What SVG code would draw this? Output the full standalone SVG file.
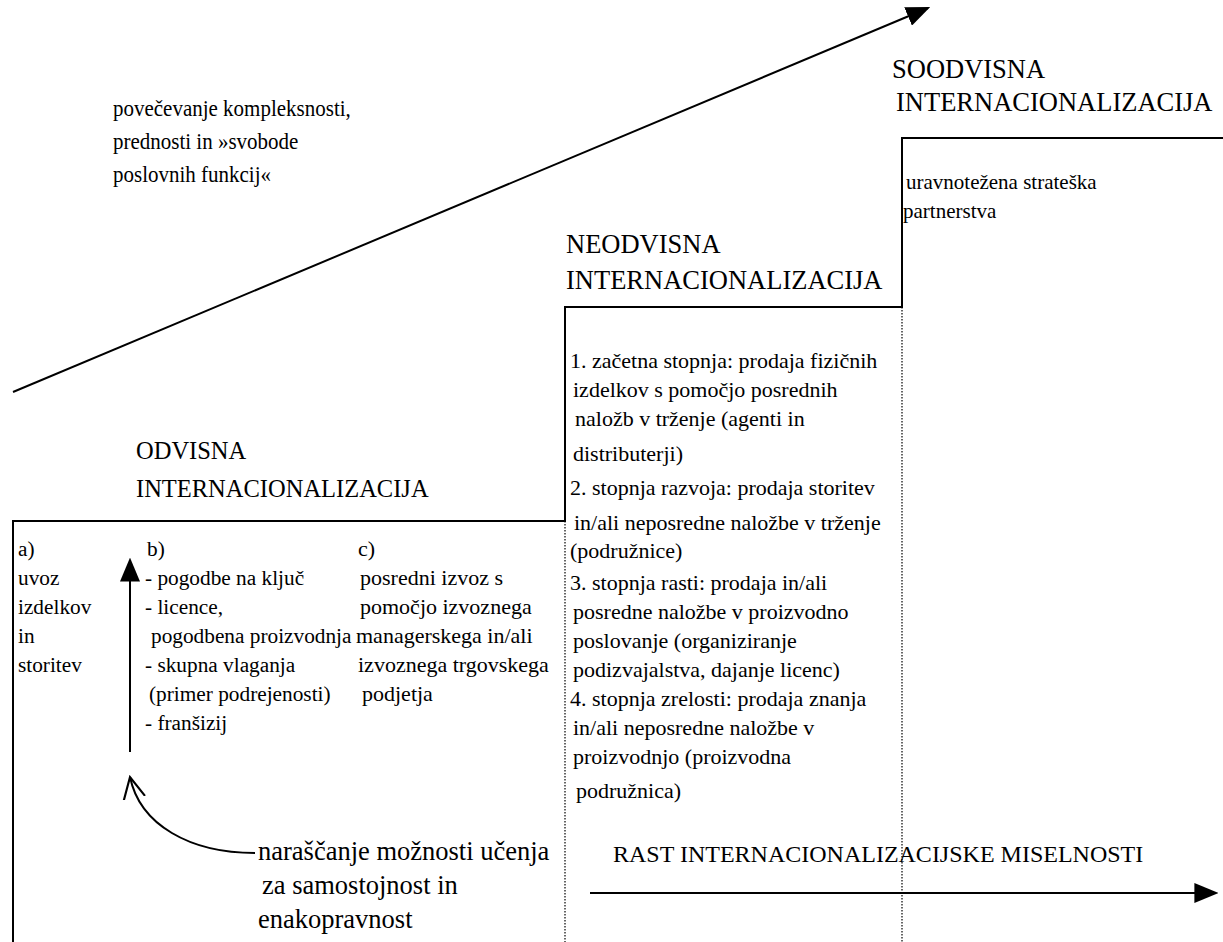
<svg xmlns="http://www.w3.org/2000/svg" width="1223" height="942" viewBox="0 0 1223 942">
<style>
text{font-family:"Liberation Serif","Times New Roman",serif;fill:#000}
.h{font-size:26.5px}
.t{font-size:22px}
.b{font-size:21.3px}
.s{font-size:21px}
.line{fill:none;stroke:#000;stroke-width:2}
.dot{fill:none;stroke:#000;stroke-width:1.2;stroke-dasharray:1.5 1.5}
</style>
<defs>
<marker id="big" viewBox="0 0 10 10" refX="9" refY="5" markerWidth="24" markerHeight="20" markerUnits="userSpaceOnUse" orient="auto" preserveAspectRatio="none"><path d="M0,0 L10,5 L0,10 z" fill="#000"/></marker>
<marker id="open" viewBox="0 0 10 10" refX="9" refY="5" markerWidth="24" markerHeight="24" markerUnits="userSpaceOnUse" orient="auto"><path d="M0,0.5 L9,5 L0,9.5" fill="none" stroke="#000" stroke-width="0.9"/></marker>
</defs>
<g id="steps">
<polyline class="line" points="13,942 13,521 565,521 565,307 902,307 902,138 1223,138"/>
<line class="dot" x1="565" y1="521" x2="565" y2="942"/>
<line class="dot" x1="902" y1="307" x2="902" y2="942"/>
</g>
<g id="connectors">
<line x1="13" y1="392" x2="928" y2="8" stroke="#000" stroke-width="2" marker-end="url(#big)"/>
<line x1="130" y1="752" x2="130" y2="560" stroke="#000" stroke-width="2" marker-end="url(#big)"/>
<path d="M255,853 C190,853 140,825 130,777" fill="none" stroke="#000" stroke-width="2" marker-end="url(#open)"/>
<line x1="590" y1="893" x2="1216" y2="893" stroke="#000" stroke-width="2" marker-end="url(#big)"/>
</g>
<g id="top-label">
<text x="113" y="116" style="font-size:21px" transform="translate(0,116) scale(1,1.1) translate(0,-116)">povečevanje kompleksnosti,</text>
<text x="113" y="149" style="font-size:21px" transform="translate(0,149) scale(1,1.1) translate(0,-149)">prednosti in »svobode</text>
<text x="113" y="182" style="font-size:21px" transform="translate(0,182) scale(1,1.1) translate(0,-182)">poslovnih funkcij«</text>
</g>
<g id="soodvisna">
<text class="h" x="892" y="78">SOODVISNA</text>
<text class="h" x="896" y="111">INTERNACIONALIZACIJA</text>
<text class="s" x="906" y="189">uravnotežena strateška</text>
<text class="s" x="903" y="218">partnerstva</text>
</g>
<g id="neodvisna">
<text class="h" x="566" y="253">NEODVISNA</text>
<text class="h" x="566" y="289">INTERNACIONALIZACIJA</text>
<text class="t" x="570" y="368">1. začetna stopnja: prodaja fizičnih</text>
<text class="t" x="573" y="397">izdelkov s pomočjo posrednih</text>
<text class="t" x="575" y="426">naložb v trženje (agenti in</text>
<text class="t" x="573" y="461">distributerji)</text>
<text class="t" x="570" y="495">2. stopnja razvoja: prodaja storitev</text>
<text class="t" x="574" y="530">in/ali neposredne naložbe v trženje</text>
<text class="t" x="570" y="558">(podružnice)</text>
<text class="t" x="570" y="590">3. stopnja rasti: prodaja in/ali</text>
<text class="t" x="573" y="619">posredne naložbe v proizvodno</text>
<text class="t" x="573" y="648">poslovanje (organiziranje</text>
<text class="t" x="573" y="677">podizvajalstva, dajanje licenc)</text>
<text class="t" x="570" y="706">4. stopnja zrelosti: prodaja znanja</text>
<text class="t" x="573" y="735">in/ali neposredne naložbe v</text>
<text class="t" x="573" y="764">proizvodnjo (proizvodna</text>
<text class="t" x="576" y="798">podružnica)</text>
</g>
<g id="odvisna">
<text class="h" x="136" y="459" style="font-size:24.5px">ODVISNA</text>
<text class="h" x="136" y="497" style="font-size:24.5px">INTERNACIONALIZACIJA</text>
</g>
<g id="col-a">
<text class="b" x="18" y="556">a)</text>
<text class="b" x="18" y="585">uvoz</text>
<text class="b" x="18" y="614">izdelkov</text>
<text class="b" x="18" y="643">in</text>
<text class="b" x="18" y="672">storitev</text>
</g>
<g id="col-b">
<text class="b" x="147" y="556">b)</text>
<text class="b" x="145" y="585">- pogodbe na ključ</text>
<text class="b" x="145" y="614">- licence,</text>
<text class="b" x="151" y="643">pogodbena proizvodnja</text>
<text class="b" x="145" y="672">- skupna vlaganja</text>
<text class="b" x="149" y="701">(primer podrejenosti)</text>
<text class="b" x="145" y="730">- franšizij</text>
</g>
<g id="col-c">
<text class="t" x="358" y="556">c)</text>
<text class="t" x="360" y="585">posredni izvoz s</text>
<text class="t" x="360" y="614">pomočjo izvoznega</text>
<text class="t" x="356" y="643">managerskega in/ali</text>
<text class="t" x="358" y="672">izvoznega trgovskega</text>
<text class="t" x="362" y="701">podjetja</text>
</g>
<g id="learning">
<text class="h" x="258" y="860">naraščanje možnosti učenja</text>
<text class="h" x="262" y="894">za samostojnost in</text>
<text class="h" x="258" y="928">enakopravnost</text>
</g>
<g id="mindset">
<text class="h" x="613" y="862" style="font-size:24px">RAST INTERNACIONALIZACIJSKE MISELNOSTI</text>
</g>
</svg>
